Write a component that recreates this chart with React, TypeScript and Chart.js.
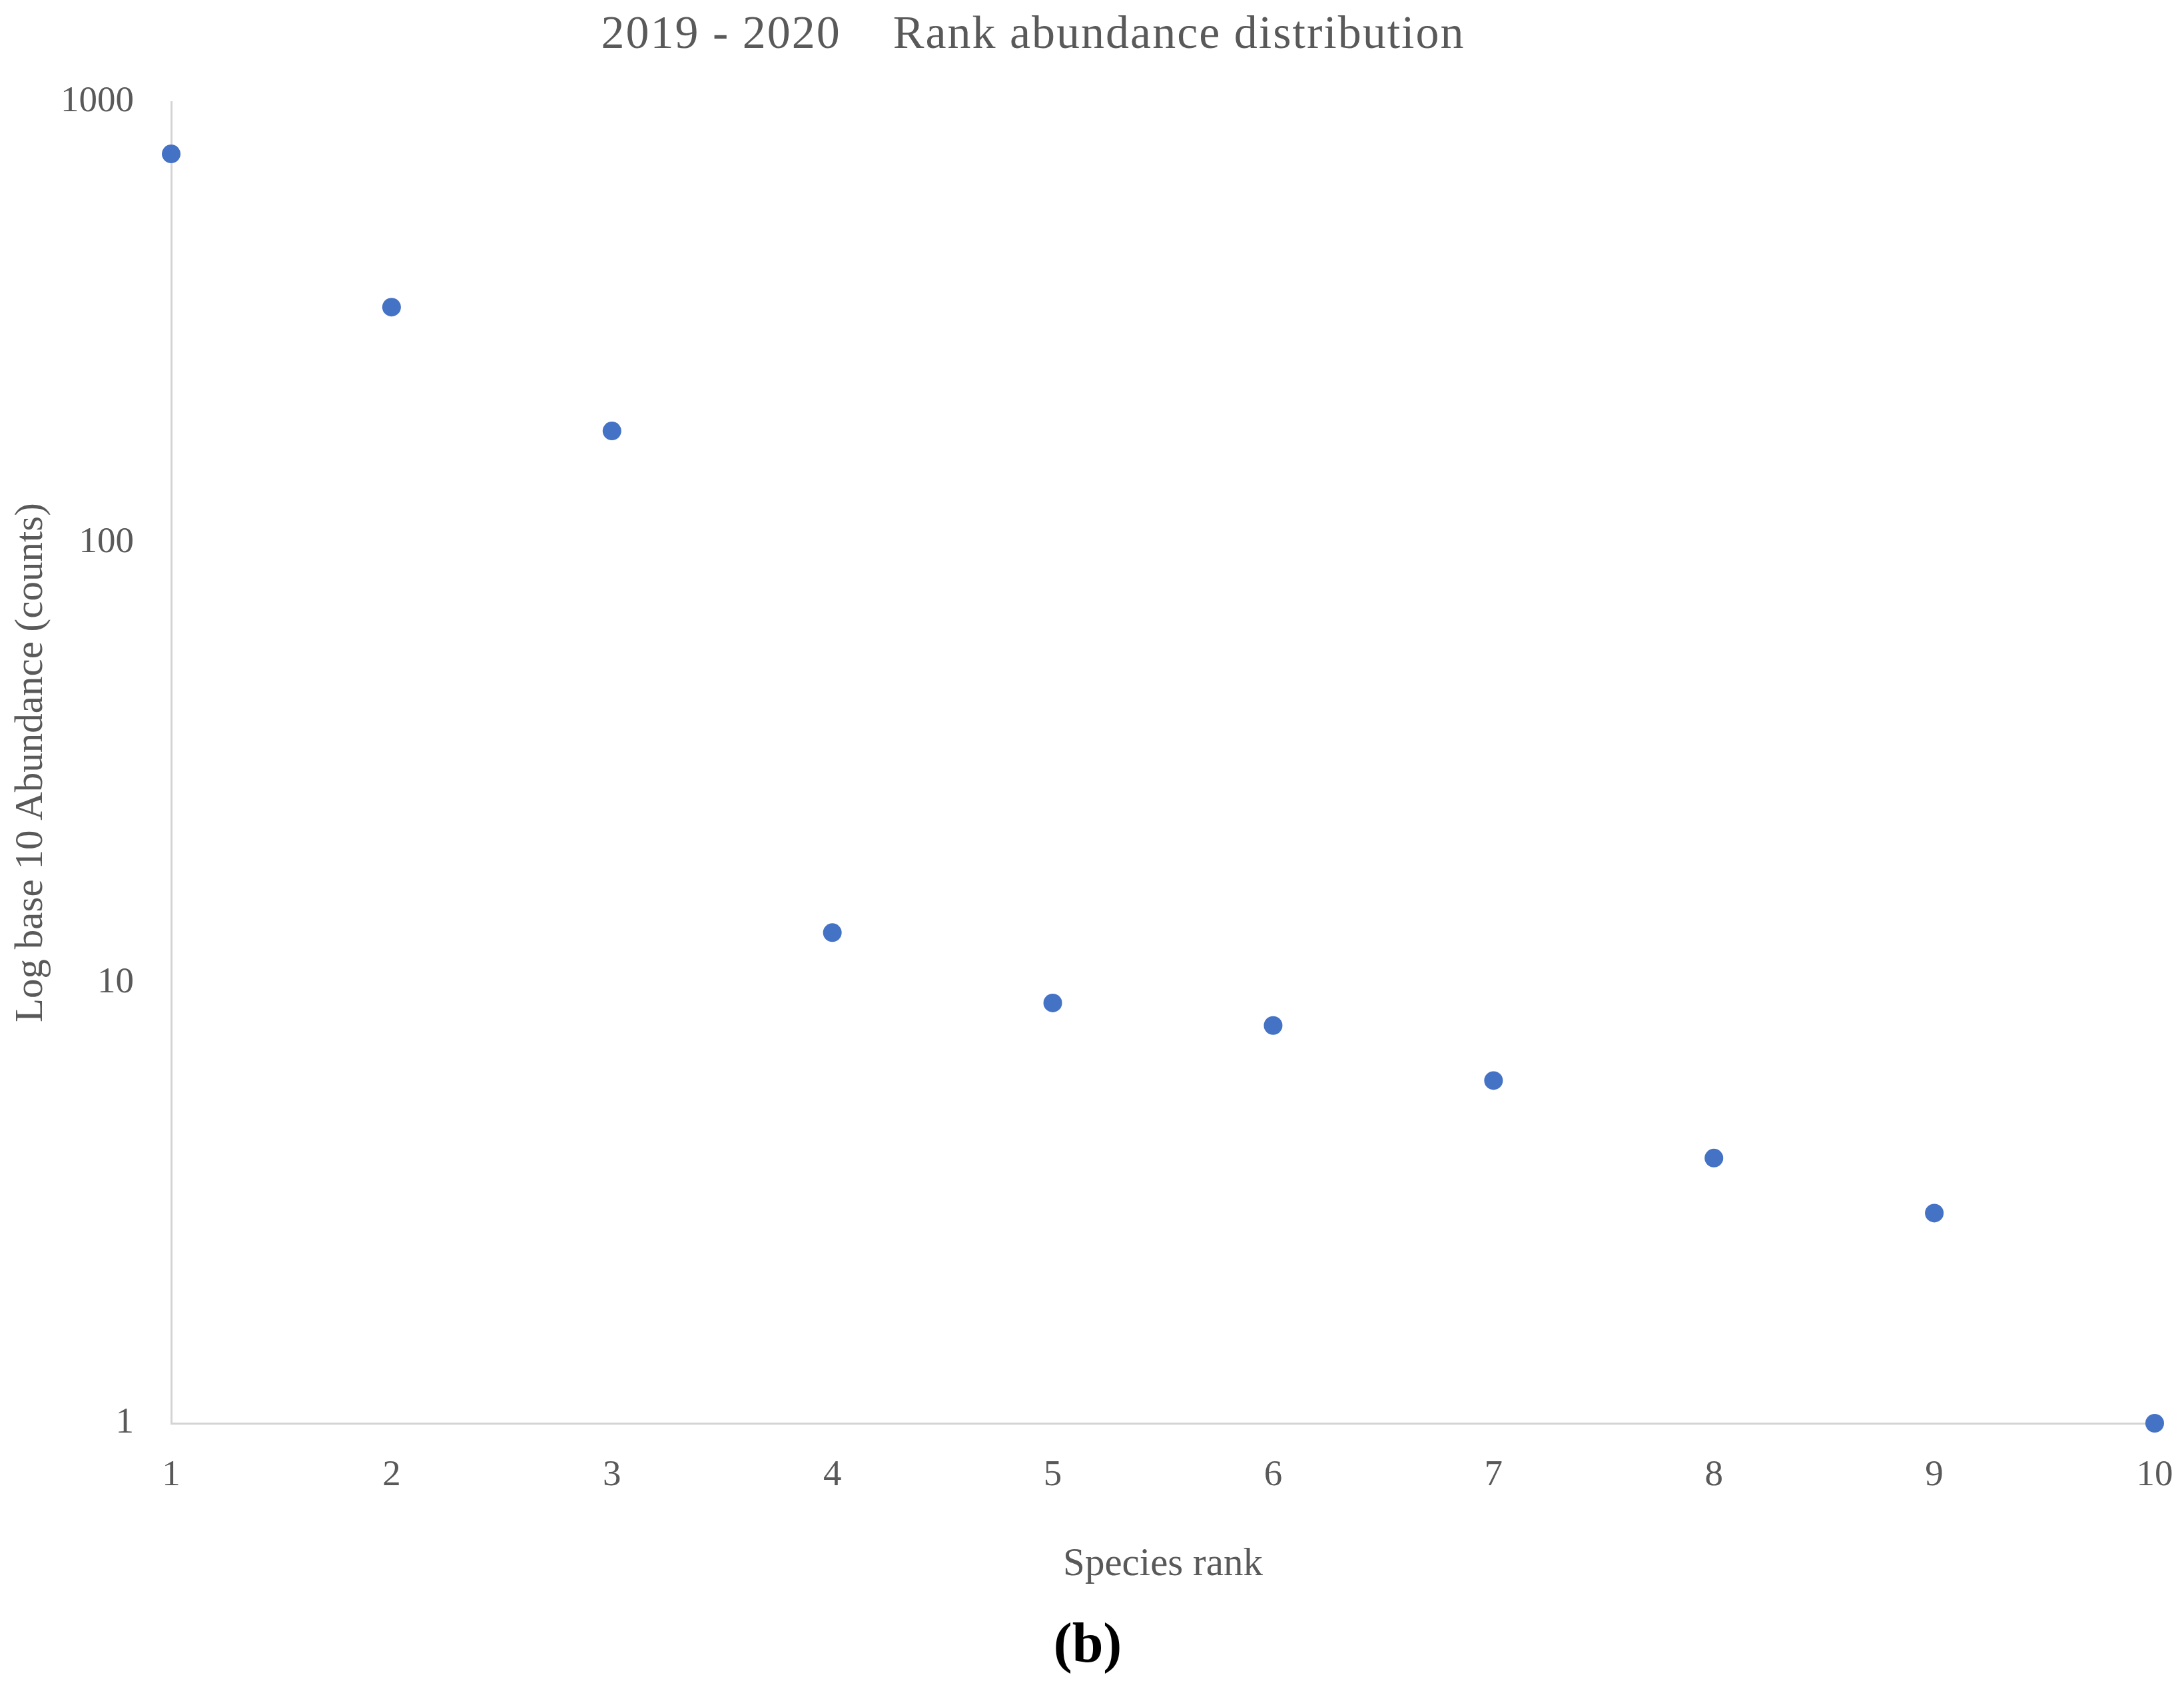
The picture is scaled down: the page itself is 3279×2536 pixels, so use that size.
import React, { useEffect, useRef } from "react";
import { Chart, registerables } from "chart.js";

Chart.register(...registerables);

const ranks = [1, 2, 3, 4, 5, 6, 7, 8, 9, 10];
const abundance = [762, 342, 179, 13, 9, 8, 6, 4, 3, 1];
const yTickValues = [1, 10, 100, 1000];
const titleText = "2019 - 2020    Rank abundance distribution";
const xTitle = "Species rank";
const yTitle = "Log base 10 Abundance (counts)";
const panelLabel = "(b)";

const FONT = "'Liberation Serif', 'DejaVu Serif', serif";
const GREY = "#595959";

const textPlugin = {
  id: "extraText",
  afterDraw(chart: any) {
    const ctx = chart.ctx;
    ctx.save();
    ctx.fillStyle = GREY;
    ctx.font = `70px ${FONT}`;
    try {
      (ctx as any).letterSpacing = "2px";
    } catch (e) {}
    ctx.textAlign = "center";
    ctx.textBaseline = "middle";
    ctx.fillText(titleText, 1551, 54);
    try {
      (ctx as any).letterSpacing = "0px";
    } catch (e) {}
    ctx.fillStyle = "#000000";
    ctx.font = `bold 84px ${FONT}`;
    ctx.fillText(panelLabel, 1633, 2473);
    ctx.restore();
  },
};

export default function App() {
  const ref = useRef<HTMLCanvasElement | null>(null);
  useEffect(() => {
    if (!ref.current) return;
    const chart = new Chart(ref.current, {
      type: "scatter",
      data: {
        datasets: [
          {
            data: ranks.map((r, i) => ({ x: r, y: abundance[i] })),
            backgroundColor: "#4472C4",
            borderColor: "#4472C4",
            pointRadius: 14,
            pointBorderWidth: 0,
            clip: false as any,
          },
        ],
      },
      options: {
        animation: false,
        responsive: false,
        maintainAspectRatio: false,
        layout: { autoPadding: false, padding: { top: 153, right: 44, left: 0, bottom: 0 } },
        plugins: {
          legend: { display: false },
          title: { display: false },
          tooltip: { enabled: false },
        },
        scales: {
          x: {
            type: "linear",
            min: 1,
            max: 10,
            grid: { display: false, drawTicks: false },
            border: { display: true, color: "#d4d4d4", width: 3 },
            ticks: {
              stepSize: 1,
              color: GREY,
              font: { family: FONT, size: 55 },
              padding: 46,
            },
            title: {
              display: true,
              text: xTitle,
              color: GREY,
              font: { family: FONT, size: 59 },
              padding: { top: 0, bottom: 151 },
            },
            afterFit(scale: any) {
              scale.height = 399;
              scale.paddingLeft = 0;
              scale.paddingRight = 0;
            },
          },
          y: {
            type: "logarithmic",
            min: 1,
            max: 1000,
            grid: { display: false, drawTicks: false },
            border: { display: true, color: "#d4d4d4", width: 3 },
            ticks: {
              color: GREY,
              font: { family: FONT, size: 55 },
              padding: 56,
              callback: (v: any) => String(v),
            },
            afterBuildTicks(scale: any) {
              scale.ticks = yTickValues.map((v) => ({ value: v }));
            },
            title: {
              display: true,
              text: yTitle,
              color: GREY,
              font: { family: FONT, size: 59 },
              padding: { top: 12, bottom: 0 },
            },
            afterFit(scale: any) {
              scale.width = 257;
              scale.paddingTop = 0;
              scale.paddingBottom = 0;
            },
          },
        },
      },
      plugins: [textPlugin],
    });
    return () => chart.destroy();
  }, []);
  return (
    <div style={{ position: "absolute", left: 0, top: 0, width: 3279, height: 2536, background: "#fff" }}>
      <canvas ref={ref} width={3279} height={2536} style={{ width: 3279, height: 2536 }} />
    </div>
  );
}
